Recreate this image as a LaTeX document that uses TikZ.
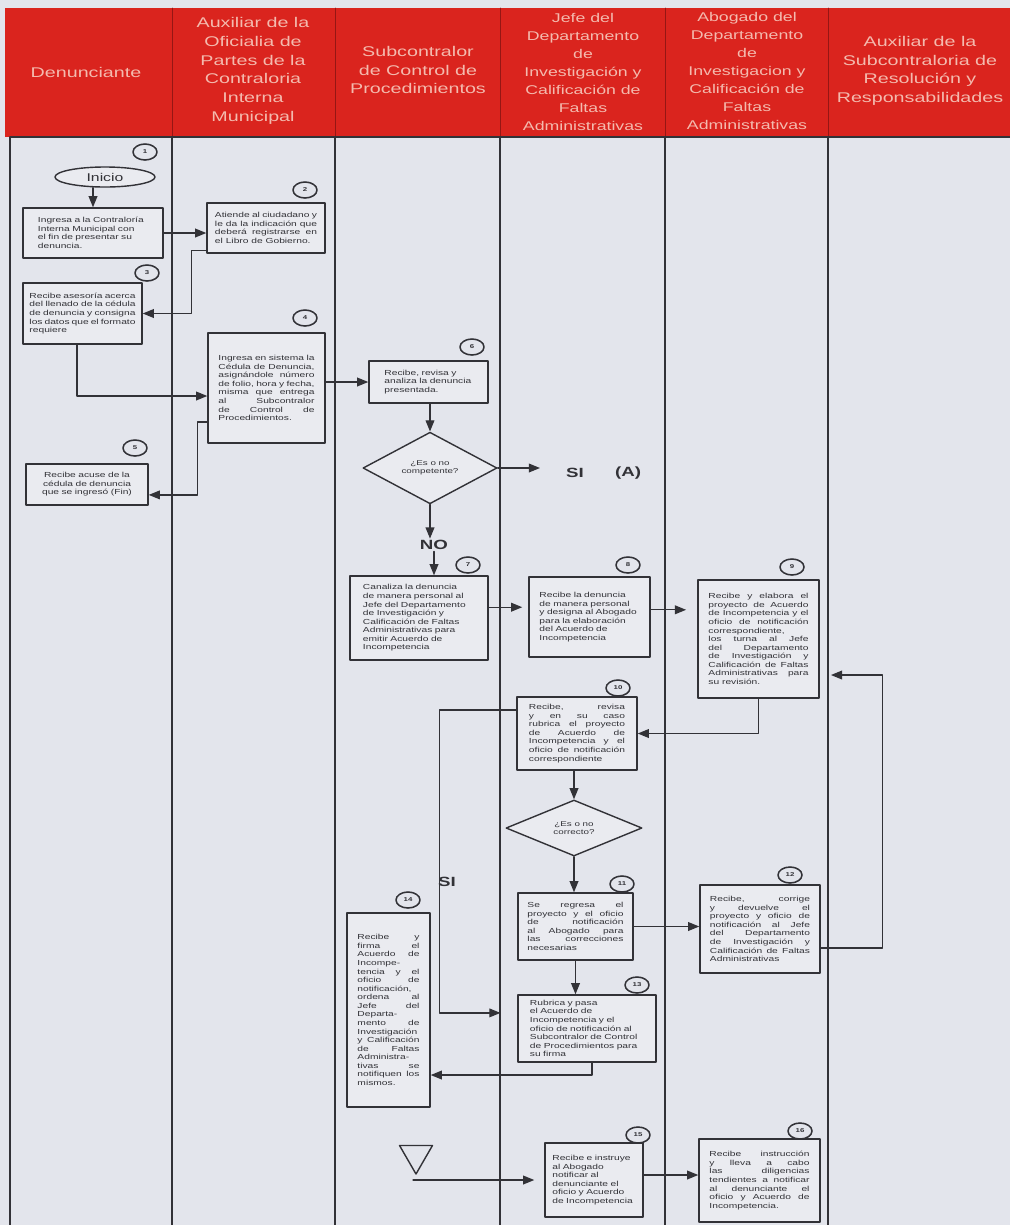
\documentclass[tikz,border=0pt]{standalone}
\usepackage{fontspec}
\setmainfont{Liberation Sans}[FakeStretch=1.4]
\usetikzlibrary{arrows.meta,shapes.geometric}
\definecolor{bodygrey}{RGB}{227,229,236}
\definecolor{boxfill}{RGB}{234,235,240}
\definecolor{hdrred}{RGB}{218,36,30}
\definecolor{hdrline}{RGB}{150,22,20}
\definecolor{hdrtxt}{RGB}{244,186,174}
\definecolor{ink}{RGB}{50,50,55}
\tolerance=9999 \emergencystretch=4pt \hbadness=10000 \lefthyphenmin=62
\begin{document}
\begin{tikzpicture}[x=0.025cm, y=-0.025cm, line cap=round, line join=round,
    lane/.style={draw=ink, line width=0.8pt},
    hdr/.style={text=hdrtxt, align=center, font=\fontsize{10}{13.3}\selectfont},
    hdrs/.style={text=hdrtxt, align=center, font=\fontsize{9}{12.8}\selectfont},
    paso/.style={draw=ink, fill=boxfill, line width=1pt, inner sep=2pt, text=ink,
      font=\fontsize{5.2}{6.1}\selectfont},
    num/.style={draw=ink, ellipse, line width=1.1pt, minimum width=0.6cm,
      minimum height=0.4cm, inner sep=0pt, text=ink, font=\fontsize{4}{4}\selectfont\bfseries},
    dec/.style={draw=ink, fill=boxfill, diamond, line width=1pt, inner sep=0pt,
      align=center, text=ink, font=\fontsize{5}{6}\selectfont},
    lbl/.style={font=\fontsize{9.5}{10}\selectfont\bfseries, text=ink, inner sep=1pt},
    arr/.style={draw=ink, line width=0.9pt, -{Triangle[length=0.28cm, width=0.22cm]}}]
  \useasboundingbox (0,0) rectangle (1010,1225);
  \fill[bodygrey] (0,0) rectangle (1010,1225);
  % encabezado de carriles
  \fill[hdrred] (5,8) rectangle (1010,137);
  \foreach \x in {172,335,500,665,828}
    \draw[hdrline, line width=0.6pt] (\x,8) -- (\x,137);
  \node[hdr] (h1) at (86,72) {Denunciante};
  \node[hdr] (h2) at (253,71) {Auxiliar de la\\Oficialia de\\Partes de la\\Contraloria\\Interna\\Municipal};
  \node[hdr] (h3) at (418,70) {Subcontralor\\de Control de\\Procedimientos};
  \node[hdrs] (h4) at (583,72) {Jefe del\\Departamento\\de\\Investigación y\\Calificación de\\Faltas\\Administrativas};
  \node[hdrs] (h5) at (747,71) {Abogado del\\Departamento\\de\\Investigacion y\\Calificación de\\Faltas\\Administrativas};
  \node[hdr] (h6) at (920,71) {Auxiliar de la\\Subcontraloria de\\Resolución y\\Responsabilidades};
  % carriles
  \draw[lane] (10,137) -- (1010,137);
  \foreach \x in {10,172,335,500,665,828}
    \draw[lane] (\x,137) -- (\x,1225);
  % Denunciante y Oficialia de Partes
  \node[num] (n1) at (145,152) {1};
  \node[draw=ink, fill=boxfill, ellipse, line width=1pt, minimum width=2.5cm,
    minimum height=0.5cm, inner sep=0pt, text=ink, font=\fontsize{8}{8}\selectfont] (inicio) at (105,177) {Inicio};
  \node[paso, text width=2.75cm, align=left, minimum width=3.5cm, minimum height=1.25cm] (b1) at (93,233)
    {Ingresa a la Contraloría Interna Municipal con el fin de presentar su denuncia.};
  \node[num] (n2) at (305,190) {2};
  \node[paso, text width=2.55cm, align=justify, minimum width=2.95cm, minimum height=1.25cm] (b2) at (266,228)
    {Atiende al ciudadano y le da la indicación que deberá registrarse en el Libro de Gobierno.};
  \node[num] (n3) at (147,273) {3};
  \node[paso, text width=2.65cm, align=justify, minimum width=2.975cm, minimum height=1.525cm] (b3) at (82.5,313.5)
    {Recibe asesoría acerca del llenado de la cédula de denuncia y consigna los datos que el formato requiere};
  \node[num] (n4) at (305,318) {4};
  \node[paso, text width=2.4cm, align=justify, minimum width=2.925cm, minimum height=2.75cm] (b4) at (266.5,388)
    {Ingresa en sistema la Cédula de Denuncia, asignándole número de folio, hora y fecha, misma que entrega al Subcontralor de Control de Procedimientos.};
  \node[num] (n5) at (135,448) {5};
  \node[paso, text width=2.6cm, align=center, minimum width=3.05cm, minimum height=1.025cm] (b5) at (87,484.5)
    {Recibe acuse de la cédula de denuncia que se ingresó (Fin)};
  % Subcontralor
  \node[num] (n6) at (472,347) {6};
  \node[paso, text width=2.2cm, align=left, minimum width=2.975cm, minimum height=1.05cm] (b6) at (428.5,382)
    {Recibe, revisa y analiza la denuncia presentada.};
  \node[dec, minimum width=3.35cm, minimum height=1.375cm] (d1) at (430,468) {¿Es o no\\competente?};
  \coordinate (siA) at (540,468);
  \node[lbl] (si1) at (575,473) {SI};
  \node[lbl] (a1) at (628,473) {(A)};
  \node[lbl] (no1) at (434,545) {NO};
  \node[num] (n7) at (468,565) {7};
  \node[paso, text width=2.8cm, align=left, minimum width=3.45cm, minimum height=2.1cm] (b7) at (419,618)
    {Canaliza la denuncia de manera personal al Jefe del Departamento de Investigación y Calificación de Faltas Administrativas para emitir Acuerdo de Incompetencia};
  \node[num] (n14) at (408,900) {14};
  \node[paso, text width=1.55cm, align=justify, minimum width=2.075cm, minimum height=4.85cm] (b14) at (388.5,1010)
    {Recibe y firma el Acuerdo de Incompe\-tencia y el oficio de notifica\-ción, ordena al Jefe del Departa\-mento de Investiga\-ción y Calificación de Faltas Administra\-tivas se notifiquen los mismos.};
  \node[draw=ink, line width=1pt, regular polygon, regular polygon sides=3, shape border rotate=180,
    minimum size=0.95cm, inner sep=0pt] (tri) at (416,1155) {};
  \coordinate (tri0) at (413,1180);
  % Jefe del Departamento
  \node[num] (n8) at (628,565) {8};
  \node[paso, text width=2.5cm, align=left, minimum width=3.025cm, minimum height=2.0cm] (b8) at (589.5,617)
    {Recibe la denuncia de manera personal y designa al Abogado para la elaboración del Acuerdo de Incompetencia};
  \node[num] (n10) at (618,688) {10};
  \node[paso, text width=2.4cm, align=justify, minimum width=3.0cm, minimum height=1.825cm] (b10) at (577,733.5)
    {Recibe, revisa y en su caso rubrica el proyecto de Acuerdo de Incompetencia y el oficio de notificación correspondiente};
  \node[dec, minimum width=3.4cm, minimum height=1.4cm] (d2) at (574,828) {¿Es o no\\correcto?};
  \node[lbl] (si2) at (447,882) {SI};
  \node[num] (n11) at (622,884) {11};
  \node[paso, text width=2.4cm, align=justify, minimum width=2.875cm, minimum height=1.675cm] (b11) at (575.5,926.5)
    {Se regresa el proyecto y el oficio de notificación al Abogado para las correcciones necesarias};
  \node[num] (n13) at (637,985) {13};
  \node[paso, text width=2.85cm, align=left, minimum width=3.45cm, minimum height=1.675cm] (b13) at (587,1028.5)
    {Rubrica y pasa el Acuerdo de Incompetencia y el oficio de notificación al Subcontralor de Control de Procedimientos para su firma};
  \node[num] (n15) at (638,1135) {15};
  \node[paso, text width=2.08cm, align=left, minimum width=2.45cm, minimum height=1.85cm] (b15) at (594,1180)
    {Recibe e instruye al Abogado notificar al denunciante el oficio y Acuerdo de Incompetencia};
  % Abogado
  \node[num] (n9) at (792,567) {9};
  \node[paso, text width=2.5cm, align=justify, minimum width=3.025cm, minimum height=2.95cm] (b9) at (758.5,639)
    {Recibe y elabora el proyecto de Acuerdo de Incompetencia y el oficio de notificación correspondiente, los turna al Jefe del Departamento de Investigación y Calificación de Faltas Administrativas para su revisión.};
  \node[num] (n12) at (790,875) {12};
  \node[paso, text width=2.5cm, align=justify, minimum width=3.0cm, minimum height=2.2cm] (b12) at (760,929)
    {Recibe, corrige y devuelve el proyecto y oficio de notificación al Jefe del Departamento de Investigación y Calificación de Faltas Administrativas};
  \node[num] (n16) at (800,1131) {16};
  \node[paso, text width=2.5cm, align=justify, minimum width=3.025cm, minimum height=2.075cm] (b16) at (759.5,1180.5)
    {Recibe instrucción y lleva a cabo las diligencias tendientes a notificar al denunciante el oficio y Acuerdo de Incompetencia.};
  % conectores
  \draw[arr] (b1.north |- inicio.south) -- (b1.north);
  \draw[arr] (b1.east) -- (b1.east -| b2.west);
  \draw[arr] ([yshift=0.075cm]b2.south west) -- ++(-15,0) |- (b3.east);
  \draw[arr] ([xshift=-0.14cm]b3.south) |- ([yshift=-0.2cm]b4.west);
  \draw[arr] ([yshift=-0.85cm]b4.west) -- ++(-10,0) |- ([yshift=-0.26cm]b5.east);
  \draw[arr] (b4.east |- b6.west) -- (b6.west);
  \draw[arr] (b6.south -| d1.north) -- (d1.north);
  \draw[arr] (d1.east) -- (siA);
  \draw[arr] (d1.south) -- (d1.south |- no1.north);
  \draw[arr] (no1.south) -- (no1.south |- b7.north);
  \draw[arr, shorten >=0.15cm] ([yshift=0.27cm]b7.east) -- ([yshift=0.27cm]b7.east -| b8.west);
  \draw[arr, shorten >=0.28cm] ([yshift=0.18cm]b8.east) -- ([yshift=0.18cm]b8.east -| b9.west);
  \draw[arr] (b9.south) |- (b10.east);
  \draw[arr] (d2.north |- b10.south) -- (d2.north);
  \draw[arr, shorten >=0.42cm] ([yshift=0.59cm]b10.west) -- ++(-77,0) |- ([yshift=0.39cm]b13.west);
  \draw[arr] (d2.south) -- (d2.south |- b11.north);
  \draw[arr] (b11.east) -- (b11.east -| b12.west);
  \draw[arr, shorten >=0.28cm] ([yshift=-0.475cm]b12.east) -- ++(62,0) |- ([yshift=-0.9cm]b9.east);
  \draw[arr] (b11.south) -- (b11.south |- b13.north);
  \draw[arr] ([xshift=0.125cm]b13.south) |- ([yshift=-1.625cm]b14.east);
  \draw[arr, shorten >=0.25cm] (tri0) -- (b15.west);
  \draw[arr] ([yshift=0.125cm]b15.east) -- ([yshift=0.125cm]b15.east -| b16.west);
\end{tikzpicture}
\end{document}
